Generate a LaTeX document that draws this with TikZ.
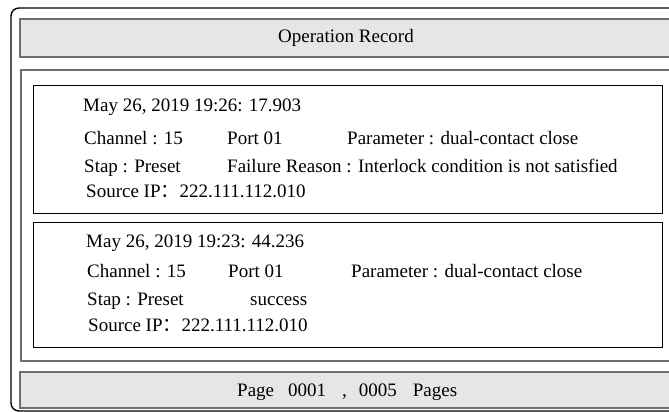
\documentclass[tikz,border=0pt]{standalone}
\usepackage{fontspec}
\setmainfont{Liberation Serif}
\newfontfamily\cjkfont{Noto Sans CJK SC}
\definecolor{panelgray}{HTML}{E6E6E6}
\definecolor{framegray}{HTML}{6E6E6E}
\tikzset{
  outerframe/.style={draw=black, line width=1.4pt, rounded corners=8pt},
  barbox/.style={draw=framegray, line width=1.4pt, fill=panelgray},
  midframe/.style={draw=framegray, line width=1.4pt},
  recbox/.style={draw=black, line width=0.9pt},
  txt/.style={anchor=base west, inner sep=0pt, font=\fontsize{19}{23}\selectfont},
}
\newcommand{\fwcolon}{{\cjkfont ：}}
\begin{document}
\begin{tikzpicture}[x=1pt,y=-1pt]
\useasboundingbox (0,0) rectangle (669,412);
\begin{scope}
\clip (0,0) rectangle (669,412);
\draw[outerframe] (11,8) rectangle (690,411);
\draw[barbox] (20,19) rectangle (690,57);
\draw[midframe] (21,70) rectangle (690,361);
\draw[barbox] (20,372) rectangle (690,408);
\end{scope}
\node[txt] (title) at (278,43) {Operation Record};
% record 1
\draw[recbox] (33,85) rectangle (662,213);
\node[txt] (a1) at (83,111) {May 26, 2019 19:26: 17.903};
\node[txt] (a2) at (84,144) {Channel : 15};
\node[txt] (a3) at (227,144) {Port 01};
\node[txt] (a4) at (347,144) {Parameter : dual-contact close};
\node[txt] (a5) at (84,172) {Stap : Preset};
\node[txt] (a6) at (227,172) {Failure Reason : Interlock condition is not satisfied};
\node[txt] (a7) at (86,197) {Source IP\fwcolon 222.111.112.010};
% record 2
\draw[recbox] (33,222) rectangle (662,347);
\node[txt] (b1) at (86,247) {May 26, 2019 19:23: 44.236};
\node[txt] (b2) at (87,277) {Channel : 15};
\node[txt] (b3) at (228,277) {Port 01};
\node[txt] (b4) at (351,277) {Parameter : dual-contact close};
\node[txt] (b5) at (87,305) {Stap : Preset};
\node[txt] (b6) at (250,305) {success};
\node[txt] (b7) at (88,331) {Source IP\fwcolon 222.111.112.010};
% footer
\node[txt] (pg) at (237,396) {Page\hspace{14pt}0001\hspace{16pt},\hspace{12pt}0005\hspace{16pt}Pages};
\end{tikzpicture}
\end{document}
